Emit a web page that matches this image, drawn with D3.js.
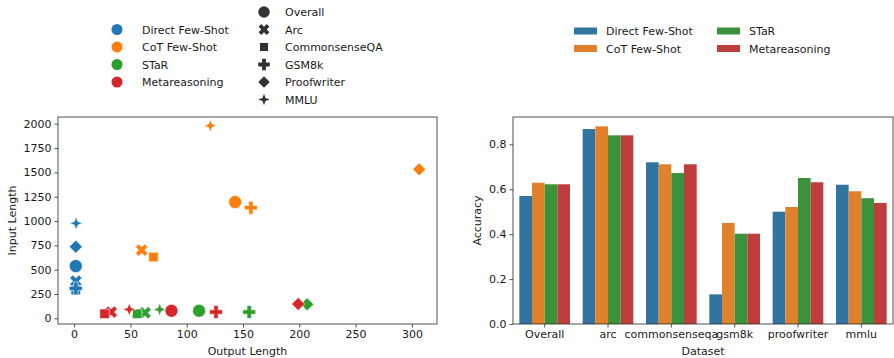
<!DOCTYPE html>
<html>
<head>
<meta charset="utf-8">
<script src="https://cdn.jsdelivr.net/npm/d3@7"></script>
<style>
body { margin: 0; background: #fff; }
text { font-family: "DejaVu Sans", sans-serif; fill: #1a1a1a; }
</style>
</head>
<body>
<div id="chart"></div>
<script>
var svgWidth = 894;
var svgHeight = 358;

// methods (hue) and datasets (style)
var methods = ["Direct Few-Shot", "CoT Few-Shot", "STaR", "Metareasoning"];
var datasets = ["Overall", "Arc", "CommonsenseQA", "GSM8k", "Proofwriter", "MMLU"];

// scatter: output length / input length, per method, in dataset order
var outputLen = {
    "Direct Few-Shot": [1.5, 1.5, 1.5, 1.5, 1.5, 1.8],
    "CoT Few-Shot": [143, 60, 70.5, 157, 306.5, 121],
    "STaR": [111, 63, 56, 155.5, 207, 76],
    "Metareasoning": [86.5, 33, 27, 126, 199, 49]
};
var inputLen = {
    "Direct Few-Shot": [537, 383, 290, 308, 736, 976],
    "CoT Few-Shot": [1195, 702, 630, 1137, 1531, 1980],
    "STaR": [78, 58, 47, 65, 144, 92],
    "Metareasoning": [78, 65, 47, 65, 147, 92]
};

// bar chart
var barCats = ["Overall", "arc", "commonsenseqa", "gsm8k", "proofwriter", "mmlu"];
var accuracy = {
    "Direct Few-Shot": [0.570, 0.868, 0.720, 0.132, 0.500, 0.620],
    "CoT Few-Shot": [0.629, 0.880, 0.711, 0.450, 0.521, 0.591],
    "STaR": [0.622, 0.840, 0.672, 0.402, 0.650, 0.560],
    "Metareasoning": [0.622, 0.840, 0.711, 0.402, 0.631, 0.539]
};

var scatterTicksX = [0, 50, 100, 150, 200, 250, 300];
var scatterTicksY = [0, 250, 500, 750, 1000, 1250, 1500, 1750, 2000];
var barTicksY = [0, 0.2, 0.4, 0.6, 0.8];

var pointColors = ["#1f77b4", "#ff7f0e", "#2ca02c", "#d62728"];
var barColors = ["#3274a1", "#e1812c", "#3a923a", "#c03d3e"];

var svg = d3.select("#chart").append("svg")
    .attr("width", svgWidth)
    .attr("height", svgHeight);

// marker shapes, s = full size in px
function markerPath(name, s) {
    var r = s / 2;
    var pts;
    if (name === "Overall") {
        return d3.symbol(d3.symbolCircle, Math.PI * r * r)();
    }
    if (name === "CommonsenseQA") {
        var h = r / Math.SQRT2;
        pts = [[-h, -h], [h, -h], [h, h], [-h, h]];
    } else if (name === "Proofwriter") {
        pts = [[0, -r], [r, 0], [0, r], [-r, 0]];
    } else if (name === "GSM8k" || name === "Arc") {
        var a = r / 3;
        pts = [[-a, -r], [a, -r], [a, -a], [r, -a], [r, a], [a, a], [a, r], [-a, r], [-a, a], [-r, a], [-r, -a], [-a, -a]];
        if (name === "Arc") {
            var c = Math.cos(Math.PI / 4), sn = Math.sin(Math.PI / 4);
            pts = pts.map(function(p) { return [p[0] * c - p[1] * sn, p[0] * sn + p[1] * c]; });
        }
    } else {
        // 4 point star
        pts = [];
        for (var i = 0; i < 8; i++) {
            var ang = -Math.PI / 2 + i * Math.PI / 4;
            var rr = (i % 2 === 0) ? r : r * 0.38;
            pts.push([rr * Math.cos(ang), rr * Math.sin(ang)]);
        }
    }
    return "M" + pts.map(function(p) { return p[0].toFixed(2) + "," + p[1].toFixed(2); }).join("L") + "Z";
}

function styleAxis(g) {
    g.selectAll("path.domain").remove();
    g.selectAll(".tick line").attr("stroke", "#262626").attr("stroke-width", 0.8);
    g.selectAll(".tick text").style("font-size", "11px").attr("fill", "#1a1a1a");
}

// ---------- scatter ----------
var sc = { left: 58, right: 437, top: 117, bottom: 324 };

var xScale = d3.scaleLinear().domain([-14.3, 322.3]).range([sc.left, sc.right]);
var yScale = d3.scaleLinear().domain([-58, 2069]).range([sc.bottom, sc.top]);

var points = [];
methods.forEach(function(m, mi) {
    datasets.forEach(function(ds, di) {
        points.push({ method: m, mi: mi, dataset: ds, x: outputLen[m][di], y: inputLen[m][di] });
    });
});

svg.append("g").selectAll("path")
    .data(points)
    .enter()
    .append("path")
    .attr("d", d => markerPath(d.dataset, d.dataset === "CommonsenseQA" ? 13.5 : 13))
    .attr("transform", d => `translate(${xScale(d.x)}, ${yScale(d.y)})`)
    .attr("fill", d => pointColors[d.mi])
    .attr("stroke", "white")
    .attr("stroke-width", 0.6);

svg.append("g")
    .attr("transform", `translate(0, ${sc.bottom})`)
    .call(d3.axisBottom(xScale).tickValues(scatterTicksX).tickFormat(d3.format("d")).tickSize(3.5).tickPadding(3))
    .call(styleAxis);

svg.append("g")
    .attr("transform", `translate(${sc.left}, 0)`)
    .call(d3.axisLeft(yScale).tickValues(scatterTicksY).tickFormat(d3.format("d")).tickSize(3.5).tickPadding(3))
    .call(styleAxis);

svg.append("rect")
    .attr("x", sc.left).attr("y", sc.top)
    .attr("width", sc.right - sc.left).attr("height", sc.bottom - sc.top)
    .attr("fill", "none").attr("stroke", "#262626").attr("stroke-width", 0.8);

svg.append("text")
    .attr("x", (sc.left + sc.right) / 2).attr("y", 355)
    .attr("text-anchor", "middle").style("font-size", "11px")
    .text("Output Length");

svg.append("text")
    .attr("transform", `translate(16, ${(sc.top + sc.bottom) / 2}) rotate(-90)`)
    .attr("text-anchor", "middle").style("font-size", "11px")
    .text("Input Length");

// left legend
var legL = svg.append("g");
methods.forEach(function(m, i) {
    var y = 29.5 + i * 17.5;
    legL.append("circle").attr("cx", 117).attr("cy", y).attr("r", 5.5).attr("fill", pointColors[i]);
    legL.append("text").attr("x", 142).attr("y", y + 4).style("font-size", "11px").text(m);
});
datasets.forEach(function(ds, i) {
    var y = 12 + i * 17.5;
    legL.append("path").attr("d", markerPath(ds, 11.5))
        .attr("transform", `translate(264, ${y})`).attr("fill", "#333");
    legL.append("text").attr("x", 285).attr("y", y + 4).style("font-size", "11px").text(ds);
});

// ---------- bars ----------
var bc = { left: 513, right: 893, top: 117, bottom: 324 };

var x0 = d3.scaleBand().domain(barCats).range([bc.left, bc.right]).padding(0);
var x1 = d3.scaleBand().domain(methods)
    .range([x0.bandwidth() * 0.1, x0.bandwidth() * 0.9]).padding(0);
var yBar = d3.scaleLinear().domain([0, 0.9216]).range([bc.bottom, bc.top]);

var barData = [];
methods.forEach(function(m, mi) {
    barCats.forEach(function(c, ci) {
        barData.push({ method: m, mi: mi, cat: c, value: accuracy[m][ci] });
    });
});

svg.append("g").selectAll("rect")
    .data(barData)
    .enter()
    .append("rect")
    .attr("x", d => x0(d.cat) + x1(d.method))
    .attr("y", d => yBar(d.value))
    .attr("width", x1.bandwidth())
    .attr("height", d => yBar(0) - yBar(d.value))
    .attr("fill", d => barColors[d.mi]);

svg.append("g")
    .attr("transform", `translate(0, ${bc.bottom})`)
    .call(d3.axisBottom(x0).tickSize(3.5).tickPadding(3))
    .call(styleAxis);

svg.append("g")
    .attr("transform", `translate(${bc.left}, 0)`)
    .call(d3.axisLeft(yBar).tickValues(barTicksY).tickFormat(d3.format(".1f")).tickSize(3.5).tickPadding(3))
    .call(styleAxis);

svg.append("rect")
    .attr("x", bc.left).attr("y", bc.top)
    .attr("width", bc.right - bc.left).attr("height", bc.bottom - bc.top)
    .attr("fill", "none").attr("stroke", "#262626").attr("stroke-width", 0.8);

svg.append("text")
    .attr("x", (bc.left + bc.right) / 2).attr("y", 355)
    .attr("text-anchor", "middle").style("font-size", "11px")
    .text("Dataset");

svg.append("text")
    .attr("transform", `translate(481, ${(bc.top + bc.bottom) / 2}) rotate(-90)`)
    .attr("text-anchor", "middle").style("font-size", "11px")
    .text("Accuracy");

// right legend
var legR = svg.append("g");
methods.forEach(function(m, i) {
    var col = Math.floor(i / 2), row = i % 2;
    var lx = 574 + col * 143, ly = 31 + row * 17.5;
    legR.append("rect").attr("x", lx).attr("y", ly - 3.5).attr("width", 23).attr("height", 7).attr("fill", barColors[i]);
    legR.append("text").attr("x", lx + 32).attr("y", ly + 4).style("font-size", "11px").text(m);
});
</script>
</body>
</html>
